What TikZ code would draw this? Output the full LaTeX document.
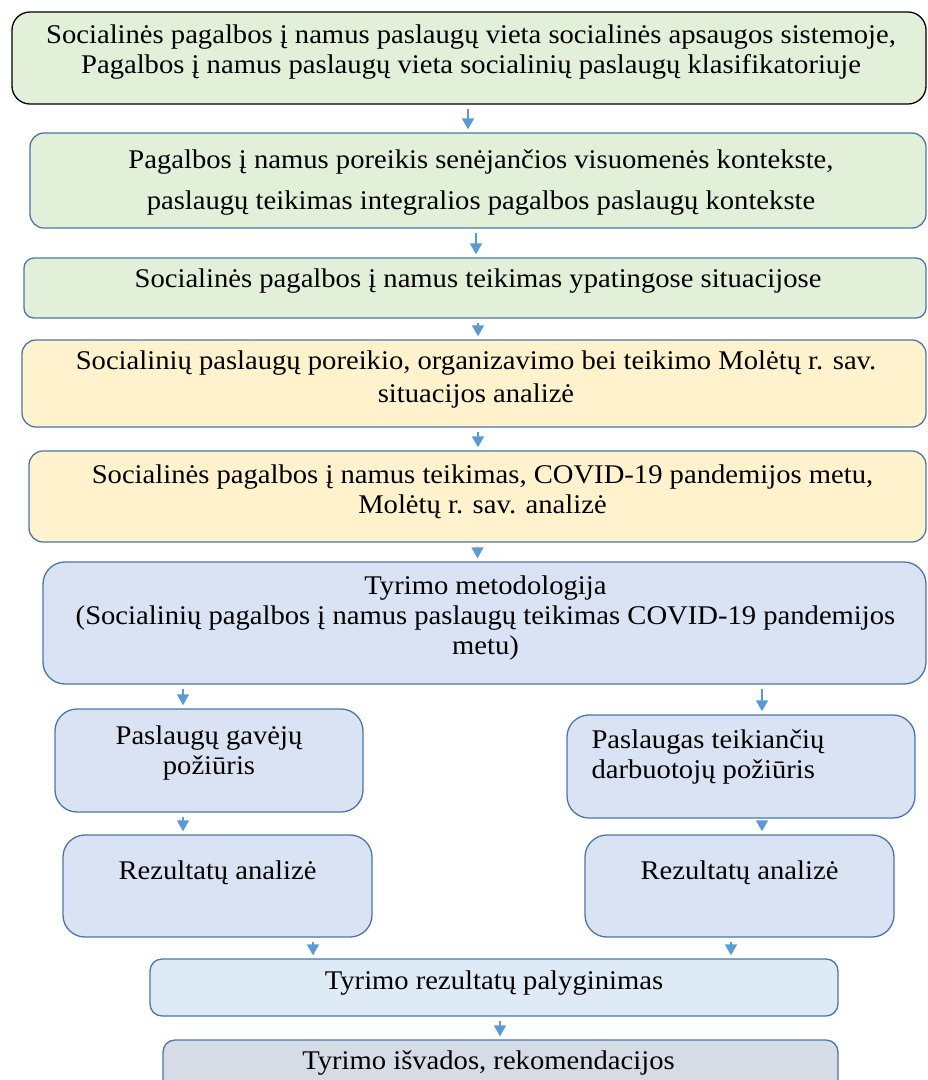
\documentclass[tikz,border=0pt]{standalone}
\usepackage{fontspec}
\setmainfont[FakeStretch=1.06]{Liberation Serif}
\usetikzlibrary{positioning}
\usetikzlibrary{arrows.meta}

\definecolor{greenbox}{HTML}{E2EFD9}
\definecolor{yellowbox}{HTML}{FFF2CC}
\definecolor{bluebox}{HTML}{DAE3F3}
\definecolor{paleblue}{HTML}{DEEBF7}
\definecolor{greybox}{HTML}{D6DCE5}
\definecolor{edgeblue}{HTML}{4A76A8}
\definecolor{arrowblue}{HTML}{5B9BD5}

\tikzset{
  box/.style={draw=edgeblue, line width=1.3pt, rounded corners=14pt, inner sep=0pt},
  txt/.style={align=center, font=\fontsize{27}{30}\selectfont, inner sep=0pt},
  flow/.style={draw=arrowblue, line width=1.4pt, -{Triangle[width=12pt,length=11pt]},
    shorten <=4pt, shorten >=3pt},
}

\begin{document}
\begin{tikzpicture}[x=1pt, y=-1pt]
    \useasboundingbox (0,0) rectangle (928,1080);
    %% teorine dalis
    \node[box, draw=black, fill=greenbox, rounded corners=18pt, minimum width=914pt, minimum height=92pt] (b1) at (469,58) {};
    \node[txt] (t1) at ([xshift=2pt,yshift=6pt]b1.center) {Socialinės pagalbos į namus paslaugų vieta socialinės apsaugos sistemoje,\\Pagalbos į namus paslaugų vieta socialinių paslaugų klasifikatoriuje};
    \node[box, fill=greenbox, minimum width=896pt, minimum height=95pt] (b2) at (478,180.5) {};
    \node[txt, font=\fontsize{27}{41}\selectfont] (t2) at ([xshift=3pt,yshift=-2pt]b2.center) {Pagalbos į namus poreikis senėjančios visuomenės kontekste,\\paslaugų teikimas integralios pagalbos paslaugų kontekste};
    \node[box, fill=greenbox, rounded corners=10pt, minimum width=902pt, minimum height=60pt] (b3) at (475,288) {};
    \node[txt] (t3) at ([xshift=3pt,yshift=7pt]b3.center) {Socialinės pagalbos į namus teikimas ypatingose situacijose};
    % Moletu r. sav. analize
    \node[box, fill=yellowbox, minimum width=904pt, minimum height=87pt] (b4) at (474,383.5) {};
    \node[txt, font=\fontsize{27}{33}\selectfont] (t4) at ([xshift=2pt,yshift=4pt]b4.center) {Socialinių paslaugų poreikio, organizavimo bei teikimo Molėtų r. sav.\\situacijos analizė};
    \node[box, fill=yellowbox, minimum width=897pt, minimum height=91pt] (b5) at (477.5,496.5) {};
    \node[txt] (t5) at ([xshift=5pt,yshift=4.5pt]b5.center) {Socialinės pagalbos į namus teikimas, COVID-19 pandemijos metu,\\Molėtų r. sav. analizė};
    % tyrimas
    \node[box, fill=bluebox, rounded corners=22pt, minimum width=883pt, minimum height=122pt] (b6) at (484.5,623) {};
    \node[txt] (t6) at ([xshift=1pt,yshift=5pt]b6.center) {Tyrimo metodologija\\(Socialinių pagalbos į namus paslaugų teikimas COVID-19 pandemijos\\metu)};
    \node[box, fill=bluebox, rounded corners=22pt, minimum width=308pt, minimum height=103pt] (b7l) at (209,760.5) {};
    \node[txt] (t7l) at ([yshift=8pt]b7l.center) {Paslaugų gavėjų\\požiūris};
    \node[box, fill=bluebox, rounded corners=22pt, minimum width=348pt, minimum height=103pt] (b7r) at (741,766.5) {};
    \node[txt, align=left, anchor=west] (t7r) at ([xshift=25pt,yshift=9.5pt]b7r.west) {Paslaugas teikiančių\\darbuotojų požiūris};
    \node[box, fill=bluebox, rounded corners=22pt, minimum width=309pt, minimum height=102pt] (b8l) at (217.5,886) {};
    \node[txt] (t8l) at ([yshift=13pt]b8l.center) {Rezultatų analizė};
    \node[box, fill=bluebox, rounded corners=22pt, minimum width=309pt, minimum height=102pt] (b8r) at (739.5,886) {};
    \node[txt] (t8r) at ([yshift=13pt]b8r.center) {Rezultatų analizė};
    % palyginimas ir isvados
    \node[box, fill=paleblue, rounded corners=12pt, minimum width=688pt, minimum height=57pt] (b9) at (494,987.5) {};
    \node[txt] (t9) at ([yshift=4.5pt]b9.center) {Tyrimo rezultatų palyginimas};
    \node[box, fill=greybox, rounded corners=12pt, minimum width=675pt, minimum height=52pt] (b10) at (500.5,1066) {};
    \node[txt] (t10) at ([xshift=-12pt,yshift=3pt]b10.center) {Tyrimo išvados, rekomendacijos};

    % rodykles
    \draw[flow] ([xshift=-1pt]b1.south) -- ([xshift=-1pt]b1.south |- b2.north);
    \draw[flow] ([xshift=-2pt]b2.south) -- ([xshift=-2pt]b2.south |- b3.north);
    \draw[flow] ([xshift=3pt]b3.south) -- ([xshift=3pt]b3.south |- b4.north);
    \draw[flow] ([xshift=4pt]b4.south) -- ([xshift=4pt]b4.south |- b5.north);
    \draw[flow] (b5.south) -- (b5.south |- b6.north);
    \draw[flow] ([xshift=-26pt]b7l.north |- b6.south) -- ([xshift=-26pt]b7l.north);
    \draw[flow] ([xshift=21pt]b7r.north |- b6.south) -- ([xshift=21pt]b7r.north);
    \draw[flow] ([xshift=-26pt]b7l.south) -- ([xshift=-26pt]b7l.south |- b8l.north);
    \draw[flow] ([xshift=21pt]b7r.south) -- ([xshift=21pt]b7r.south |- b8r.north);
    \draw[flow] ([xshift=95.5pt]b8l.south) -- ([xshift=95.5pt]b8l.south |- b9.north);
    \draw[flow] ([xshift=-8.5pt]b8r.south) -- ([xshift=-8.5pt]b8r.south |- b9.north);
    \draw[flow] ([xshift=6pt]b9.south) -- ([xshift=6pt]b9.south |- b10.north);
\end{tikzpicture}
\end{document}
